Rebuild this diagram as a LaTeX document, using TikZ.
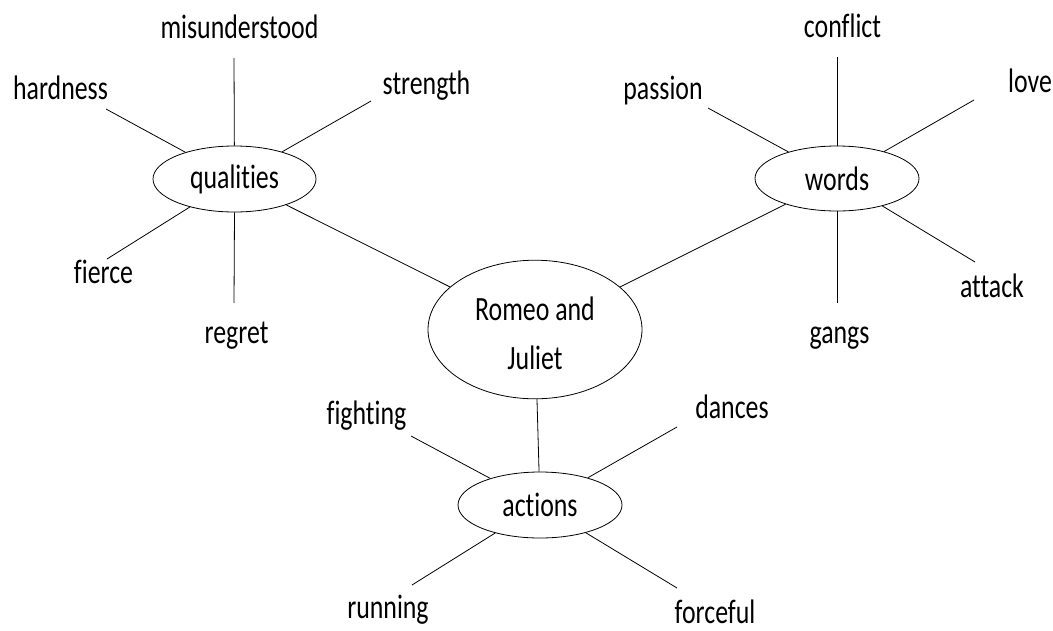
\documentclass[tikz,border=0pt]{standalone}
\usepackage{fontspec}
\setmainfont{Carlito}[FakeStretch=0.76,Ligatures=NoCommon]
\usetikzlibrary{shapes.geometric}
\begin{document}
\begin{tikzpicture}[x=1pt,y=-1pt,
  every node/.style={font=\fontsize{34}{49}\selectfont},
  hub/.style={draw,ellipse,inner sep=0pt,line width=0.8pt},
  word/.style={anchor=base,inner sep=0pt},
  spoke/.style={line width=0.8pt}]
\useasboundingbox (0,0) rectangle (1053,630);
% hubs
\node[hub,minimum width=163,minimum height=66] (q) at (234.5,179) {qualities};
\node[hub,minimum width=164,minimum height=65] (w) at (837,178.5) {words};
\node[hub,minimum width=214,minimum height=113] (R) at (535,329.5)
  {\raisebox{-6pt}[\height][\depth]{\begin{tabular}{@{}c@{}}Romeo and\\Juliet\end{tabular}}};
\node[hub,minimum width=164,minimum height=66] (a) at (540,505) {actions};
% labels
\node[word] (lmis) at (239.5,38) {misunderstood};
\node[word] (lhar) at (60.5,99) {hardness};
\node[word] (lstr) at (426.5,94) {strength};
\node[word] (lfie) at (103.5,283) {fierce};
\node[word] (lreg) at (236.5,343) {regret};
\node[word] (lcon) at (842.5,37) {conflict};
\node[word] (lpas) at (663,99) {passion};
\node[word] (llov) at (1030,92) {love};
\node[word] (latt) at (992,297) {attack};
\node[word] (lgan) at (839.5,343) {gangs};
\node[word] (lfig) at (366.5,424) {fighting};
\node[word] (ldan) at (732,418) {dances};
\node[word] (lrun) at (388,618) {running};
\node[word] (lfor) at (715,623) {forceful};
% spoke ends
\coordinate (cmis) at (234,58);
\coordinate (char) at (106,109);
\coordinate (cstr) at (371,101);
\coordinate (cfie) at (107,259);
\coordinate (creg) at (234,303);
\coordinate (ccon) at (837,57);
\coordinate (cpas) at (708,108);
\coordinate (clov) at (974,100);
\coordinate (catt) at (975,262);
\coordinate (cgan) at (837,303);
\coordinate (cfig) at (411,436);
\coordinate (cdan) at (677,427);
\coordinate (crun) at (412,585);
\coordinate (cfor) at (677,588);
% spokes
\draw[spoke] (q) -- (cmis);
\draw[spoke] (q) -- (char);
\draw[spoke] (q) -- (cstr);
\draw[spoke] (q) -- (cfie);
\draw[spoke] (q.south) -- (creg);
\draw[spoke] (w.north) -- (ccon);
\draw[spoke] (w) -- (cpas);
\draw[spoke] (w) -- (clov);
\draw[spoke] (w) -- (catt);
\draw[spoke] (w.south) -- (cgan);
\draw[spoke] (a) -- (cfig);
\draw[spoke] (a) -- (cdan);
\draw[spoke] (a) -- (crun);
\draw[spoke] (a) -- (cfor);
% links
\draw[spoke] (q) -- (R);
\draw[spoke] (w) -- (R);
\draw[spoke] (R) -- (a);
\end{tikzpicture}
\end{document}
